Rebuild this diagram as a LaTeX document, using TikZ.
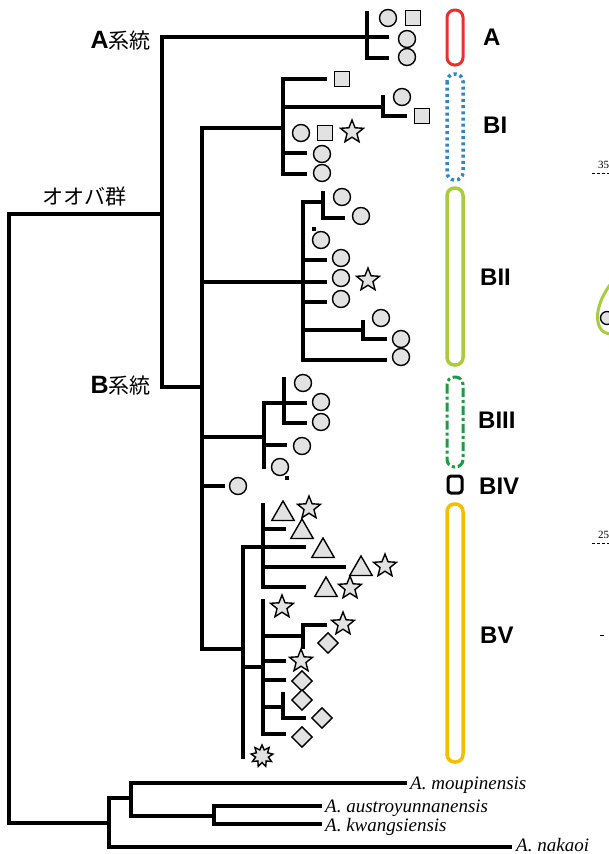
\documentclass[tikz,border=0pt]{standalone}
\usepackage{fontspec}
\setmainfont{Liberation Serif}
\newfontfamily\lab{Liberation Sans}
\newfontfamily\cjk{Noto Sans CJK JP}
\usetikzlibrary{shapes.geometric}
\definecolor{symfill}{HTML}{E2E2E2}
\definecolor{cA}{HTML}{E8312F}
\definecolor{cBI}{HTML}{2F86C8}
\definecolor{cBII}{HTML}{A8CC3C}
\definecolor{cBIII}{HTML}{1F9A45}
\definecolor{cBV}{HTML}{F6BE00}
\tikzset{
  branch/.style={line width=3.1pt, line cap=rect},
  symbase/.style={draw=black, fill=symfill, line width=1.4pt, inner sep=0pt},
  symcirc/.style={symbase, circle, minimum size=17pt},
  symsq/.style={symbase, rectangle, minimum size=15pt},
  symstar/.style={symbase, star, star points=5, star point ratio=2.3, minimum size=24pt},
  symtri/.style={symbase, regular polygon, regular polygon sides=3, minimum size=26pt},
  symdia/.style={symbase, diamond, minimum size=21pt},
  symburst/.style={symbase, star, star points=9, star point ratio=1.7, minimum size=22pt},
  capsule/.style={rounded corners=7.5pt, line width=3pt},
  grplab/.style={font=\lab\bfseries\fontsize{24}{24}\selectfont, anchor=base west, inner sep=0pt},
  sp/.style={font=\itshape\fontsize{19}{19}\selectfont, anchor=base west, inner sep=0pt},
  tinydot/.style={fill=black, inner sep=0pt, minimum size=3.2pt, rectangle}
}
\begin{document}
\begin{tikzpicture}[x=1pt,y=-1pt]
\useasboundingbox (0,0) rectangle (609,854);

% ---------------- tree ----------------
% root and outgroups
\draw[branch] (162,214) -- (9,214) -- (9,823) -- (109,823);
\draw[branch] (131,798) -- (109,798) -- (109,847) -- (510,847);
\draw[branch] (405,783) -- (131,783) -- (131,816) -- (214,816);
\draw[branch] (320,806) -- (214,806) -- (214,824) -- (320,824);
% A / B split
\draw[branch] (367,37) -- (162,37) -- (162,387) -- (202,387);
% A clade
\draw[branch] (367,13) -- (367,58) -- (387,58);
\draw[branch] (367,37) -- (387,37);
% B backbone
\draw[branch] (202,128) -- (202,649) -- (243,649);
% BI
\draw[branch] (202,128) -- (283,128);
\draw[branch] (325,79) -- (283,79) -- (283,174) -- (305,174);
\draw[branch] (283,107) -- (383,107);
\draw[branch] (383,97) -- (383,116) -- (405,116);
\draw[branch] (283,153) -- (305,153);
% BII
\draw[branch] (202,282) -- (325,282);
\draw[branch] (323,202) -- (303,202) -- (303,360) -- (385,360);
\draw[branch] (323,193) -- (323,218) -- (343,218);
\draw[branch] (303,260) -- (325,260);
\draw[branch] (303,302) -- (325,302);
\draw[branch] (303,330) -- (363,330);
\draw[branch] (363,322) -- (363,339) -- (385,339);
% BIII
\draw[branch] (202,437) -- (264,437);
\draw[branch] (305,403) -- (264,403) -- (264,467);
\draw[branch] (284,379) -- (284,423) -- (305,423);
\draw[branch] (264,445) -- (285,445);
% BIV
\draw[branch] (202,486) -- (223,486);
% BV
\draw[branch] (243,757) -- (243,547) -- (304,547);
\draw[branch] (263,505) -- (263,587) -- (304,587);
\draw[branch] (263,529) -- (284,529);
\draw[branch] (263,567) -- (344,567);
\draw[branch] (243,667) -- (263,667);
\draw[branch] (263,601) -- (263,734) -- (284,734);
\draw[branch] (263,636) -- (303,636);
\draw[branch] (325,625) -- (303,625) -- (303,647);
\draw[branch] (263,661) -- (284,661);
\draw[branch] (263,680) -- (284,680);
\draw[branch] (263,707) -- (283,707);
\draw[branch] (283,694) -- (283,718) -- (304,718);

% ---------------- symbols ----------------
% A
\node[symcirc] (a1) at (388,18) {};
\node[symsq] (a2) at (413,18) {};
\node[symcirc] (a3) at (407,39) {};
\node[symcirc] (a4) at (407,57) {};
% BI
\node[symsq] (b1) at (342,79) {};
\node[symcirc] (b2) at (402,97) {};
\node[symsq] (b3) at (422,116) {};
\node[symcirc] (b4) at (301,133) {};
\node[symsq] (b5) at (325,133) {};
\node[symstar] (b6) at (352,132) {};
\node[symcirc] (b7) at (322,154) {};
\node[symcirc] (b8) at (322,173) {};
% BII
\node[symcirc] (c1) at (342,197) {};
\node[symcirc] (c2) at (361,216) {};
\node[tinydot] (c0) at (314,229) {};
\node[symcirc] (c3) at (321,240) {};
\node[symcirc] (c4) at (341,258) {};
\node[symcirc] (c5) at (341,278) {};
\node[symstar] (c6) at (368,280) {};
\node[symcirc] (c7) at (341,299) {};
\node[symcirc] (c8) at (381,318) {};
\node[symcirc] (c9) at (401,339) {};
\node[symcirc] (c10) at (401,357) {};
% BIII
\node[symcirc] (d1) at (303,383) {};
\node[symcirc] (d2) at (321,402) {};
\node[symcirc] (d3) at (321,422) {};
\node[symcirc] (d4) at (302,446) {};
\node[symcirc] (d5) at (280,467) {};
\node[tinydot] (d6) at (287,478) {};
% BIV
\node[symcirc] (e1) at (238,486) {};
% BV
\node[symtri] (f1) at (283,514) {};
\node[symstar] (f2) at (309,508) {};
\node[symtri] (f3) at (302,532) {};
\node[symtri] (f4) at (323,551) {};
\node[symtri] (f5) at (361,569) {};
\node[symstar] (f6) at (385,566) {};
\node[symtri] (f7) at (326,590) {};
\node[symstar] (f8) at (350,588) {};
\node[symstar] (f9) at (282,607) {};
\node[symstar] (f10) at (343,624) {};
\node[symdia] (f11) at (328,643) {};
\node[symstar] (f12) at (301,661) {};
\node[symdia] (f13) at (302,681) {};
\node[symdia] (f14) at (302,700) {};
\node[symdia] (f15) at (322,718) {};
\node[symdia] (f16) at (302,737) {};
\node[symburst] (f17) at (262,756) {};

% ---------------- capsules ----------------
\draw[capsule, cA] (447,10) rectangle (463,65);
\draw[capsule, cBI, line width=3.5pt, dash pattern=on 3pt off 3.2pt] (447,74) rectangle (463,180);
\draw[capsule, cBII, line width=3.5pt] (447,188) rectangle (463,365);
\draw[capsule, cBIII, line width=3pt, dash pattern=on 9pt off 3pt on 3pt off 3pt] (447,377) rectangle (463,467);
\draw[line width=3pt, rounded corners=3pt] (448,476) rectangle (462,493);
\draw[capsule, cBV, line width=3.5pt] (447,504) rectangle (463,762);

% ---------------- labels ----------------
\node[grplab] (lA) at (483,45) {A};
\node[grplab] (lBI) at (483,133) {BI};
\node[grplab] (lBII) at (480,285) {BII};
\node[grplab] (lBIII) at (478,428) {BIII};
\node[grplab] (lBIV) at (479,494) {BIV};
\node[grplab] (lBV) at (480,643) {BV};

\node[anchor=base east, inner sep=0pt] (kA) at (151,48) {\lab\bfseries\fontsize{25}{25}\selectfont A\cjk\mdseries\fontsize{21}{21}\selectfont 系統};
\node[anchor=base east, inner sep=0pt] (kB) at (151,393) {\lab\bfseries\fontsize{25}{25}\selectfont B\cjk\mdseries\fontsize{21}{21}\selectfont 系統};
\node[anchor=base west, inner sep=0pt] (kO) at (42,204) {\cjk\fontsize{21}{21}\selectfont オオバ群};

\node[sp] (s1) at (410,789) {A. moupinensis};
\node[sp] (s2) at (325,812) {A. austroyunnanensis};
\node[sp] (s3) at (325,831) {A. kwangsiensis};
\node[sp] (s4) at (516,851) {A. nakaoi};

% ---------------- cropped fragments at right edge ----------------
\begin{scope}
\clip (0,0) rectangle (609,854);
\node[anchor=base west, inner sep=0pt, font=\fontsize{11}{11}\selectfont] (n35) at (598,168) {35};
\draw[densely dashed, line width=0.6pt] (592,173) -- (609,173);
\node[anchor=base west, inner sep=0pt, font=\fontsize{11}{11}\selectfont] (n25) at (598,538) {25};
\draw[densely dashed, line width=0.6pt] (592,543) -- (609,543);
\draw[line width=0.6pt] (600,635) -- (604,635);
\draw[cBII, line width=3pt] (612,282) .. controls (600,298) and (596,312) .. (598,322) .. controls (600,332) and (606,334) .. (612,334);
\draw[line width=1.3pt, fill=symfill] (607,318) circle (6.5);
\end{scope}
\end{tikzpicture}
\end{document}
